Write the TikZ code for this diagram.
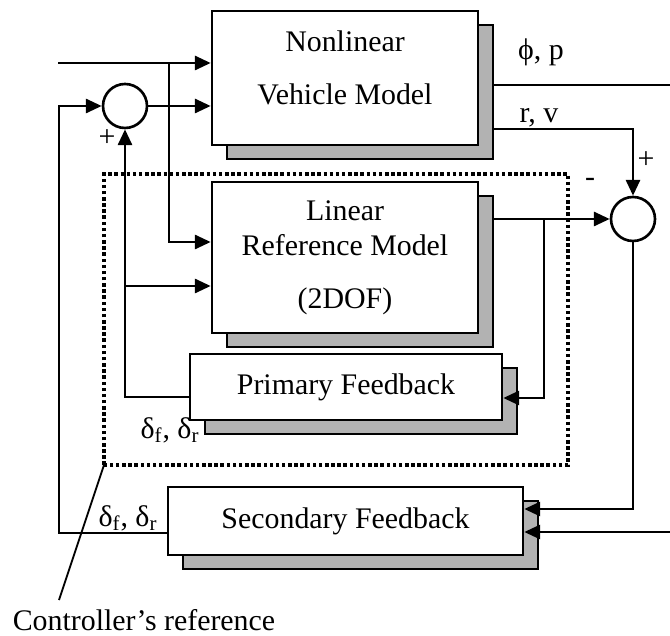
\documentclass[tikz,border=0pt]{standalone}
\usepackage{fontspec}
\setmainfont{Liberation Serif}
\usetikzlibrary{calc,shadows,arrows.meta}

\begin{document}
\begin{tikzpicture}[
		blk/.style={draw, line width=1.5pt, fill=white, align=center,
			drop shadow={shadow xshift=0.3cm, shadow yshift=-0.28cm, opacity=1,
				fill=gray!60, draw=black, line width=1.5pt}},
		sumnode/.style={draw, circle, line width=1.5pt, minimum size=0.88cm, inner sep=0pt},
		wire/.style={line width=1.5pt},
		arr/.style={wire, -{Triangle[length=9pt,width=8pt]}},
		ctrl/.style={line width=2pt, dash pattern=on 2pt off 1.5pt},
		lbl/.style={inner sep=0pt},
		font=\fontsize{17}{20}\selectfont]
		%%%%% START %%%%%
		
		\useasboundingbox (0, 0) rectangle (13.4, 12.7);
		
		\coordinate (cl) at (2.08, 3.40);
		\coordinate (cu) at (11.36, 9.22);
		\draw[ctrl] (cl) rectangle (cu);
		
		\node[blk, minimum width=5.32cm, minimum height=2.68cm, text depth=0.4cm] (nl) at (6.90, 11.14) {Nonlinear\\[10pt]Vehicle Model};
		\node[blk, minimum width=5.32cm, minimum height=3.02cm] (lin) at (6.90, 7.55) {Linear\\Reference Model\\[10pt](2DOF)};
		\node[blk, minimum width=6.24cm, minimum height=1.32cm] (pri) at (6.92, 4.96) {Primary Feedback};
		\node[blk, minimum width=7.10cm, minimum height=1.36cm] (sec) at (6.91, 2.28) {Secondary Feedback};
		
		\node[sumnode] (s1) at (2.50, 10.58) {};
		\node[sumnode] (s2) at (12.66, 8.32) {};
		
		\coordinate (in) at (1.16, 11.44);
		\coordinate (j1) at (3.38, 11.44);
		\coordinate (j1b) at (3.38, 7.86);
		\coordinate (j2) at (2.50, 6.98);
		\coordinate (pf) at (2.50, 4.76);
		\coordinate (fb) at (1.18, 2.04);
		\coordinate (j3) at (10.88, 8.32);
		\coordinate (j3b) at (10.88, 4.74);
		\coordinate (rv) at (12.66, 10.12);
		\coordinate (phi) at (13.4, 11.0);
		\coordinate (sf) at (12.66, 2.52);
		\coordinate (bt) at (13.4, 2.06);
		\coordinate (lead) at (1.18, 0.70);
		
		\draw[arr] (in) -- (nl.west |- in);
		\draw[arr] (j1) -- (j1b) -- (lin.west |- j1b);
		\draw[arr] (s1.east) -- (nl.west |- s1);
		\draw[arr] (sec.west |- fb) -- (fb) |- (s1.west);
		\draw[arr] (pri.west |- pf) -| (s1.south);
		\draw[arr] (j2) -- (lin.west |- j2);
		
		\draw[arr] ($(lin.east |- s2)+(0.3, 0)$) -- (s2.west);
		\draw[arr] (j3) |- (pri.east |- j3b);
		\draw[wire] ($(nl.east |- phi)+(0.3, 0)$) -- (phi);
		\draw[arr] ($(nl.east |- rv)+(0.3, 0)$) -| (s2.north);
		\draw[arr] (s2.south) |- (sec.east |- sf);
		\draw[arr] (bt) -- (sec.east |- bt);
		
		\node[lbl] (p1) at (2.14, 9.94) {+};
		\node[lbl] (p2) at (12.92, 9.50) {+};
		\node[lbl] (m2) at (11.80, 9.06) {-};
		\node[lbl] (phil) at (10.82, 11.66) {ϕ, p};
		\node[lbl] (rvl) at (10.78, 10.34) {r, v};
		\node[lbl] (dpri) at (3.40, 4.10) {δ\textsubscript{f}, δ\textsubscript{r}};
		\node[lbl] (dsec) at (2.56, 2.34) {δ\textsubscript{f}, δ\textsubscript{r}};
		\node[lbl] (cref) at (2.88, 0.30) {Controller’s reference};
		
		\draw[line width=1pt] (cl) -- (lead);
		
		%%%%% END %%%%%
	\end{tikzpicture}
\end{document}
